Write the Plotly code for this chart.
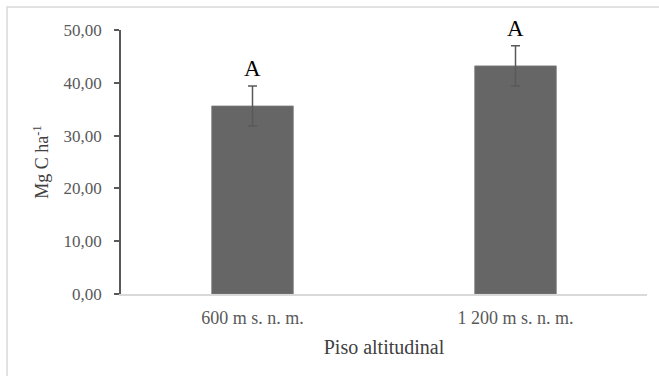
import plotly.graph_objects as go

categories = ["600 m s. n. m.", "1 200 m s. n. m."]
values = [35.6, 43.2]
errors = [3.8, 3.8]
letters = ["A", "A"]
y_ticks = [0, 10, 20, 30, 40, 50]

FONT = "Liberation Serif"
fig = go.Figure()
fig.add_trace(go.Bar(
    x=categories, y=values, width=0.31,
    marker=dict(color="#666666", line=dict(color="#7a7a7a", width=0.8)),
    error_y=dict(type="data", array=errors, visible=True, color="#595959",
                 thickness=1.5, width=4.5),
))
for c, v, e, t in zip(categories, values, errors, letters):
    fig.add_annotation(x=c, y=v + e, text=t, showarrow=False, yanchor="bottom",
                       yshift=3, font=dict(family=FONT, size=23, color="#000000"))

fig.add_shape(type="rect", xref="paper", yref="paper",
              x0=-0.2167, x1=1.07, y0=-0.34, y1=1.087,
              line=dict(color="#d9d9d9", width=1.5), layer="below")

fig.update_layout(
    width=659, height=376, margin=dict(l=121, r=12, t=30, b=82),
    paper_bgcolor="white", plot_bgcolor="white",
    separators=", ", showlegend=False,
    font=dict(family=FONT, size=17, color="#595959"),
    xaxis=dict(type="category", range=[-0.5, 1.5], showline=True, linecolor="#d9d9d9",
               linewidth=1.5, ticks="", showgrid=False, ticklabelstandoff=7,
               title=dict(text="Piso altitudinal", font=dict(size=20, color="#404040"), standoff=13),
               tickfont=dict(size=18, color="#595959")),
    yaxis=dict(range=[0, 50], tickvals=y_ticks, tickformat=".2f", showline=True,
               linecolor="#595959", linewidth=1.5, ticks="outside", ticklen=5,
               tickcolor="#595959", tickwidth=1.5, showgrid=False, zeroline=False,
               ticklabelstandoff=9,
               title=dict(text="Mg C ha<sup>-1</sup>", font=dict(size=18, color="#404040"), standoff=10),
               tickfont=dict(size=17, color="#595959")),
)
fig.write_html("out.html")
